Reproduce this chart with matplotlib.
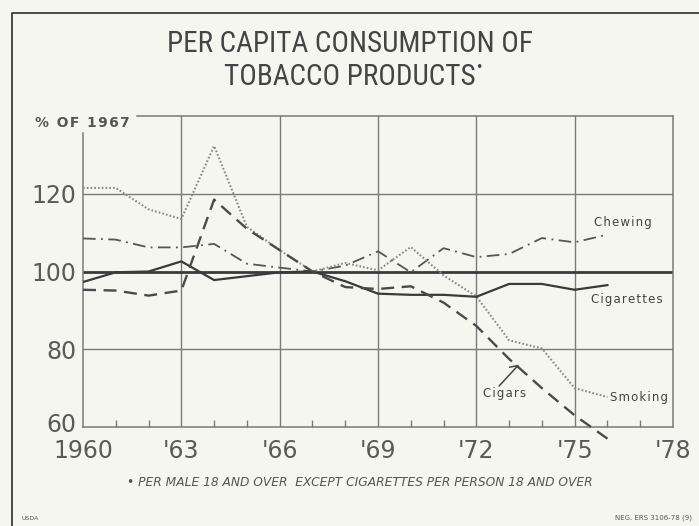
import numpy as np
import matplotlib
matplotlib.use("Agg")
import matplotlib.pyplot as plt
import matplotlib.transforms as mtransforms
from matplotlib.lines import Line2D
from matplotlib import font_manager
from matplotlib.font_manager import FontProperties
from matplotlib.ft2font import FT2Font

# data (% of 1967)
years = list(range(1960, 1977))
cigarettes = [97.3, 99.8, 100, 102.6, 97.8, 98.8, 99.8, 100, 97.5, 94.3, 94, 94, 93.5, 96.8, 96.8, 95.3, 96.5]
cigars = [95.3, 95.1, 93.8, 95.1, 118.5, 111, 105.5, 100, 96, 95.5, 96.2, 92, 86, 77.5, 70, 63, 57]
chewing = [108.5, 108.2, 106.2, 106.2, 107.1, 102, 101, 100, 101.5, 105.2, 99.8, 106, 103.7, 104.5, 108.6, 107.5, 109.5]
smoking = [121.5, 121.5, 116, 113.5, 132.3, 111.5, 105.5, 100, 102.2, 100.3, 106.3, 99, 93.6, 82.3, 80.2, 70, 67.7]

xticks = [1960, 1963, 1966, 1969, 1972, 1975, 1978]
xlabels = ["1960", "'63", "'66", "'69", "'72", "'75", "'78"]
yticks = [60, 80, 100, 120]

W, H = 699, 526
bg = '#f6f6f1'


# look for a condensed sans for the title lettering
def find_narrow():
    files = [f.fname for f in font_manager.fontManager.ttflist]
    for key in ['LiberationSansNarrow-Regular', 'RobotoCondensed-Regular', 'RobotoCondensed-Light',
                'NotoSans-CondensedLight', 'NotoSans-Condensed.', 'OpenSans-CondensedLight',
                'OpenSans_Condensed-Regular', 'OpenSans-Condensed', 'DejaVuSansCondensed.']:
        for fn in files:
            if key in fn.replace(' ', ''):
                return fn
    return None


nf = find_narrow()
if nf:
    title_fp = FontProperties(fname=nf, size=21)
else:
    title_fp = FontProperties(family='DejaVu Sans', size=17)

# letter spacing for the small hand-lettered labels
dv = FT2Font(font_manager.findfont(FontProperties(family='DejaVu Sans')))
gap = '\u200a' if dv.get_char_index(0x200a) else ''


def spaced(s):
    return gap.join(s)


fig = plt.figure(figsize=(W / 100, H / 100), dpi=100, facecolor=bg)


def px(x, y):
    return x / W, 1 - y / H


# outer frame (left and top only)
fig.add_artist(Line2D([12 / W, 12 / W, 1], [0, 1 - 13 / H, 1 - 13 / H],
                      transform=fig.transFigure, color='#3a3a3a', lw=1.3))

# title
fig.text(*px(350, 44), "PER CAPITA CONSUMPTION OF", ha='center', va='center',
         fontproperties=title_fp, color='#444444')
t2 = fig.text(*px(350, 77), "TOBACCO PRODUCTS", ha='center', va='center',
              fontproperties=title_fp, color='#444444')
bb = t2.get_window_extent(fig.canvas.get_renderer())
fig.text((bb.x1 + 3) / W, px(0, 67)[1], "\u2022", ha='center', va='center',
         fontsize=9, color='#444444')

ax = fig.add_axes([83 / W, 1 - 427 / H, 590 / W, 311 / H])
ax.set_facecolor(bg)
ax.set_xlim(1960, 1978)
ax.set_ylim(60, 140)

grid_c = '#7a7a7a'
for s in ax.spines.values():
    s.set_color(grid_c)
    s.set_linewidth(1.1)
ax.spines['left'].set_bounds(60, 135.5)
ax.spines['top'].set_bounds(1961.65, 1978)

for x in xticks[1:-1]:
    ax.axvline(x, color=grid_c, lw=1.0, zorder=1)
for y in [80, 120]:
    ax.axhline(y, color=grid_c, lw=1.0, zorder=1)
ax.axhline(100, color='#3a3a3a', lw=2.0, zorder=2)

ax.set_xticks(xticks)
ax.set_xticklabels(xlabels, fontsize=17, color='#5a5a5a')
ax.set_yticks(yticks)
ax.set_yticklabels([str(v) for v in yticks], fontsize=17, color='#5a5a5a')
ax.set_xticks([y for y in range(1961, 1978) if y not in xticks], minor=True)
ax.tick_params(axis='y', which='major', length=0, pad=5)
ax.tick_params(axis='x', which='major', length=0, pad=9)
ax.tick_params(axis='x', which='minor', direction='in', length=5, width=1, color=grid_c)

# the bottom "60" sits a little above the baseline in the original
lab60 = ax.get_yticklabels()[0]
lab60.set_transform(lab60.get_transform() +
                    mtransforms.ScaledTranslation(0, 4 / 100, fig.dpi_scale_trans))

ax.plot(years, cigarettes, color='#3a3a3a', lw=1.6, zorder=4)
ax.plot(years, cigars, color='#4a4a4a', lw=1.7, dashes=(5.5, 3.2), zorder=4, clip_on=False)
ax.plot(years, chewing, color='#555555', lw=1.3, dashes=(7, 3, 1, 3), zorder=3)
ax.plot(years, smoking, color='#888888', lw=1.5, dashes=(0.8, 1.0), zorder=3)

lab = dict(fontsize=8.5, color='#444444', va='center')
ax.text(1976.46, 112.6, spaced("Chewing"), ha='center', **lab)
ax.text(1976.6, 92.8, spaced("Cigarettes"), ha='center', **lab)
ax.text(1972.87, 68.6, spaced("Cigars"), ha='center', **lab)
ax.text(1976.07, 67.6, spaced("Smoking"), ha='left', **lab)
ax.plot([1972.7, 1973.27, 1973.02], [70.6, 75.8, 75.4], color='#444444', lw=1.1, zorder=5)

fig.text(*px(35, 123), spaced("% OF 1967"), ha='left', va='center', fontsize=10,
         fontweight='bold', color='#555555')

fig.text(*px(360, 483), "\u2022 PER MALE 18 AND OVER  EXCEPT CIGARETTES PER PERSON 18 AND OVER",
         ha='center', va='center', fontsize=8.8, style='italic', color='#555555')
fig.text(*px(22, 518), "USDA", ha='left', va='center', fontsize=4.5, color='#555555')
fig.text(*px(692, 518), "NEG. ERS 3106-78 (9)", ha='right', va='center', fontsize=5, color='#555555')

fig.savefig('out.png', dpi=100, facecolor=bg)
